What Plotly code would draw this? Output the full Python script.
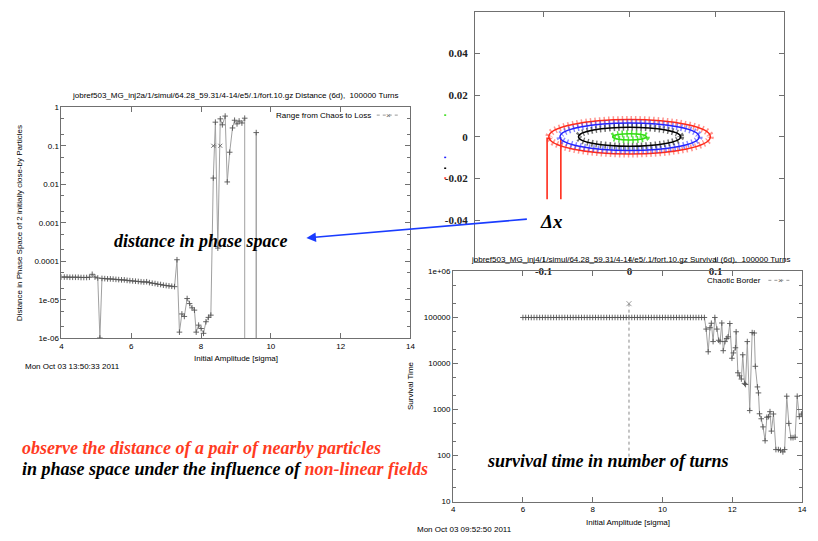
import plotly.graph_objects as go

W, H = 818, 541
SANS = "Liberation Sans"
SERIF = "Liberation Serif"
RED = "#ff3b1f"
FRAME = "#707070"

# ---------------- Plot 1: distance in phase space ----------------
dist_x = [4.0, 4.08, 4.16, 4.24, 4.32, 4.4, 4.48, 4.56, 4.64, 4.72, 4.8, 4.88, 4.96, 5.04, 5.1, 5.16,
          5.24, 5.32, 5.4, 5.48, 5.56, 5.64, 5.72, 5.8, 5.88, 5.96, 6.04, 6.12, 6.2, 6.28, 6.36, 6.44,
          6.52, 6.6, 6.68, 6.76, 6.84, 6.92, 7.0, 7.08, 7.16, 7.24,
          7.31, 7.38, 7.45, 7.52, 7.6, 7.67, 7.74, 7.81, 7.86, 7.93, 8.0, 8.07, 8.14, 8.21, 8.28,
          8.35, 8.41, 8.48, 8.55, 8.61, 8.69, 8.75, 8.82, 8.9, 8.96, 9.03, 9.09, 9.17, 9.25,
          9.25, 9.58, 9.58, 9.58]
dist_y = [3.9e-5, 3.9e-5, 3.9e-5, 3.85e-5, 3.85e-5, 3.85e-5, 3.85e-5, 3.8e-5, 3.8e-5, 3.8e-5, 3.85e-5,
          4.6e-5, 3.9e-5, 3.7e-5, 1.02e-6, 3.6e-5,
          3.55e-5, 3.5e-5, 3.5e-5, 3.45e-5, 3.4e-5, 3.35e-5, 3.3e-5, 3.3e-5, 3.2e-5, 3.15e-5, 3.1e-5,
          3.05e-5, 3.0e-5, 2.95e-5, 2.9e-5, 2.95e-5, 2.8e-5, 2.7e-5, 2.65e-5, 2.55e-5, 2.5e-5, 2.4e-5,
          2.35e-5, 2.3e-5, 2.25e-5, 2.2e-5,
          1.1e-4, 1.45e-6, 4.3e-6, 3.7e-6, 1.08e-5, 8e-6, 6.2e-6, 5.4e-6, 1.45e-6, 2.2e-6, 1.8e-6,
          1.35e-6, 2.7e-6, 3.5e-6, 4e-6,
          0.0145, 0.41, 2.2e-4, 0.5, 0.35, 0.59, 0.0115, 0.068, 0.29, 0.46, 0.37, 0.44, 0.39, 0.52,
          1e-9, 1e-9, 0.22, 1e-9]
range_x = [8.35, 8.55]
range_y = [0.1, 0.1]
dist_yticks = [1e-6, 1e-5, 1e-4, 1e-3, 1e-2, 1e-1, 1]
dist_ytext = ["1e-06", "1e-05", "0.0001", "0.001", "0.01", "0.1", "1"]
amp_ticks = [4, 6, 8, 10, 12, 14]

# ---------------- Plot 2: phase space ellipses ----------------
ell_a = [0.094, 0.081, 0.0595, 0.0197]
ell_b = [0.0083, 0.0066, 0.0046, 0.0015]
ell_colors = ["#ff2a1a", "#2222ff", "#000000", "#33dd11"]
ell_bands = ["rgba(255,60,50,0.55)", "rgba(40,40,255,0.55)", "rgba(0,0,0,0.55)", "rgba(50,220,20,0.8)"]
dx1_x = [-0.092, -0.096, -0.096]
dx1_y = [-0.0008, -0.0008, -0.030]
dx2_x = [-0.080, -0.080]
dx2_y = [-0.0008, -0.030]
ps_xticks = [-0.1, 0, 0.1]
ps_xtext = ["-0.1", "0", "0.1"]
ps_yticks = [-0.04, -0.02, 0, 0.02, 0.04]
ps_ytext = ["-0.04", "-0.02", "0", "0.02", "0.04"]

# ---------------- Plot 3: survival time ----------------
surv_x = [6.0, 6.08, 6.16, 6.24, 6.32, 6.4, 6.48, 6.56, 6.64, 6.72, 6.8, 6.88, 6.96, 7.04, 7.12, 7.2,
          7.28, 7.36, 7.44, 7.52, 7.6, 7.68, 7.76, 7.84, 7.92, 8.0, 8.08, 8.16, 8.24, 8.32, 8.4, 8.48,
          8.56, 8.64, 8.72, 8.8, 8.88, 8.96, 9.04, 9.12, 9.2, 9.28, 9.36, 9.44, 9.52, 9.6, 9.68, 9.76,
          9.84, 9.92, 10.0, 10.08, 10.16, 10.24, 10.32, 10.4, 10.48, 10.56, 10.64, 10.72, 10.8, 10.88,
          10.96, 11.04, 11.12, 11.2,
          11.25, 11.31, 11.36, 11.4, 11.45, 11.5, 11.56, 11.61, 11.65, 11.7, 11.74, 11.79, 11.84, 11.88,
          11.93, 11.99, 12.03, 12.09, 12.11, 12.16, 12.21, 12.26, 12.3, 12.35, 12.38, 12.43, 12.5,
          12.57, 12.63, 12.66, 12.72, 12.75, 12.78, 12.83, 12.88, 12.94, 12.99, 13.04, 13.08, 13.12,
          13.18, 13.25, 13.32, 13.38, 13.45, 13.5, 13.56, 13.62, 13.68, 13.74, 13.8, 13.86, 13.92, 13.98]
surv_y = [100000, 100000, 100000, 100000, 100000, 100000, 100000, 100000, 100000, 100000, 100000,
          100000, 100000, 100000, 100000, 100000, 100000, 100000, 100000, 100000, 100000, 100000,
          100000, 100000, 100000, 100000, 100000, 100000, 100000, 100000, 100000, 100000, 100000,
          100000, 100000, 100000, 100000, 100000, 100000, 100000, 100000, 100000, 100000, 100000,
          100000, 100000, 100000, 100000, 100000, 100000, 100000, 100000, 100000, 100000, 100000,
          100000, 100000, 100000, 100000, 100000, 100000, 100000, 100000, 100000, 100000, 100000,
          56000, 18000, 60000, 75000, 30000, 100000, 56000, 32000, 30000, 76000, 19000, 30000, 35000,
          38000, 74000, 13000, 17000, 22000, 49000, 6300, 5400, 4600, 15500, 3700, 3500, 30000, 950,
          47000, 46000, 8700, 3100, 2300, 810, 630, 420, 210, 680, 700, 900, 340,
          800, 135, 135, 130, 120, 135, 1950, 500, 245, 245, 250, 1950, 700, 800]
border_x = [9.04, 9.04]
border_y = [200000, 60]
surv_yticks = [10, 100, 1000, 10000, 100000, 1000000]
surv_ytext = ["10", "100", "1000", "10000", "100000", "1e+06"]


def px(x):
    return x / W


def py(y):
    return 1 - y / H


fig = go.Figure()

mk_plus = dict(symbol="cross-thin", size=4, color="#555", line=dict(width=0.9, color="#555"))
mk_x = dict(symbol="x-thin", size=4, color="#666", line=dict(width=0.9, color="#666"))

fig.add_trace(go.Scatter(x=dist_x, y=dist_y, mode="lines+markers", xaxis="x", yaxis="y",
                         line=dict(color="#a0a0a0", width=1), marker=mk_plus))
fig.add_trace(go.Scatter(x=range_x, y=range_y, mode="lines+markers", xaxis="x", yaxis="y",
                         line=dict(color="#888", width=1, dash="dot"), marker=mk_x))

fig.add_trace(go.Scatter(x=dx1_x, y=dx1_y, mode="lines", xaxis="x2", yaxis="y2",
                         line=dict(color="#ff2a1a", width=1.6)))
fig.add_trace(go.Scatter(x=dx2_x, y=dx2_y, mode="lines", xaxis="x2", yaxis="y2",
                         line=dict(color="#ff2a1a", width=1.6)))

fig.add_trace(go.Scatter(x=surv_x, y=surv_y, mode="lines+markers", xaxis="x3", yaxis="y3",
                         line=dict(color="#a0a0a0", width=1), marker=mk_plus))
fig.add_trace(go.Scatter(x=border_x, y=border_y, mode="lines+markers", xaxis="x3", yaxis="y3",
                         line=dict(color="#888", width=1, dash="dot"),
                         marker=dict(symbol="x-thin", size=[5, 0], color="#666",
                                     line=dict(width=0.9, color="#666"))))

shapes = []
for a, b, c, band in zip(ell_a, ell_b, ell_colors, ell_bands):
    shapes.append(dict(type="circle", xref="x2", yref="y2", x0=-a, x1=a, y0=-b, y1=b,
                       line=dict(color=band, width=7, dash="1.5px,3px"), layer="above"))
    shapes.append(dict(type="circle", xref="x2", yref="y2", x0=-a, x1=a, y0=-b, y1=b,
                       line=dict(color=c, width=1.5), layer="above"))

# legend samples (gnuplot style: text then sample)
for (x0, x1, yy) in [(378, 402, 113), (773, 797, 281)]:
    shapes.append(dict(type="line", xref="paper", yref="paper", x0=px(x0), x1=px(x1),
                       y0=py(yy), y1=py(yy), line=dict(color="#999", width=1, dash="dot")))
# leftover legend specks of the phase-space picture
for (xx, yy, c) in [(447, 113, "#33dd11"), (447, 156, "#2222ff"), (447, 167, "#000"), (447, 177, "#ff2a1a")]:
    shapes.append(dict(type="line", xref="paper", yref="paper", x0=px(xx - 1), x1=px(xx + 1),
                       y0=py(yy), y1=py(yy), line=dict(color=c, width=1.5)))


def A(x, y, text, size=8, xanchor="center", yanchor="middle", family=SANS, color="black",
      angle=0, weight="normal", style="normal"):
    return dict(x=px(x), y=py(y), xref="paper", yref="paper", text=text, showarrow=False,
                xanchor=xanchor, yanchor=yanchor, textangle=angle,
                font=dict(family=family, size=size, color=color, weight=weight, style=style))


ann = [
    A(236, 93, "jobref503_MG_inj2a/1/simul/64.28_59.31/4-14/e5/.1/fort.10.gz Distance (6d),  100000 Turns"),
    A(236, 361, "Initial Amplitude [sigma]"),
    A(17, 223, "Distance in Phase Space of 2 initially close-by Particles", angle=-90),
    A(21, 369, "Mon Oct 03 13:50:33 2011", xanchor="left"),
    A(374, 113, "Range from Chaos to Loss", xanchor="right"),
    A(390, 113, "×", size=8, color="#666"),
    A(634, 260, "jobref503_MG_inj4/1/simul/64.28_59.31/4-14/e5/.1/fort.10.gz Survival (6d),  100000 Turns"),
    A(631, 527, "Initial Amplitude [sigma]"),
    A(412, 388, "Survival Time", angle=-90),
    A(417, 534, "Mon Oct 03 09:52:50 2011", xanchor="left"),
    A(768, 281, "Chaotic Border", xanchor="right"),
    A(785, 281, "×", size=8, color="#666"),
    A(201, 241, "distance in phase space", size=18, family=SERIF, weight="bold", style="italic"),
    A(554, 221, "Δx", size=19, family=SERIF, weight="bold", style="italic"),
    A(611, 465, "survival time in number of turns", size=18, family=SERIF, weight="bold", style="italic"),
    A(18, 452, "observe the distance of a pair of nearby particles", size=18, family=SERIF,
      weight="bold", style="italic", color=RED, xanchor="left"),
    A(18, 473, "in phase space under the influence of <span style='color:%s'>non-linear fields</span>" % RED,
      size=18, family=SERIF, weight="bold", style="italic", xanchor="left"),
    dict(x=px(307), y=py(238), xref="paper", yref="paper", text="", showarrow=True,
         ax=222, ay=-19, axref="pixel", ayref="pixel", arrowhead=2, arrowsize=1.2,
         arrowwidth=1.6, arrowcolor="#1a3cff"),
]

tickfont = dict(family=SANS, size=8, color="black")
common = dict(showline=True, linecolor=FRAME, linewidth=1, mirror="ticks", ticks="inside",
              ticklen=5, tickcolor=FRAME, showgrid=False, zeroline=False, tickfont=tickfont)
minor_log = dict(ticks="inside", ticklen=3, tickcolor=FRAME, showgrid=False)
ps_font = dict(family=SERIF, size=11, color="#222", weight="bold")

fig.update_layout(
    width=W, height=H, margin=dict(l=0, r=0, t=0, b=0),
    paper_bgcolor="white", plot_bgcolor="white", showlegend=False,
    xaxis=dict(domain=[px(60), px(412)], range=[4, 14], tickvals=amp_ticks, anchor="y", **common),
    yaxis=dict(domain=[py(340), py(105)], type="log", range=[-6, 0], tickvals=dist_yticks,
               ticktext=dist_ytext, anchor="x", minor=minor_log, **common),
    xaxis2=dict(domain=[px(477), px(789)], range=[-0.18, 0.18], tickvals=ps_xticks, ticktext=ps_xtext,
                anchor="y2", ticklabelstandoff=-1, **{**common, "tickfont": ps_font}),
    yaxis2=dict(domain=[py(262), py(8)], range=[-0.06, 0.06], tickvals=ps_yticks, ticktext=ps_ytext,
                anchor="x2", ticklabelstandoff=4, **{**common, "tickfont": ps_font}),
    xaxis3=dict(domain=[px(455), px(807)], range=[4, 14], tickvals=amp_ticks, anchor="y3", **common),
    yaxis3=dict(domain=[py(506), py(272)], type="log", range=[1, 6], tickvals=surv_yticks,
                ticktext=surv_ytext, anchor="x3", minor=minor_log, **common),
    shapes=shapes,
    annotations=ann,
)

fig.write_html("out.html")
